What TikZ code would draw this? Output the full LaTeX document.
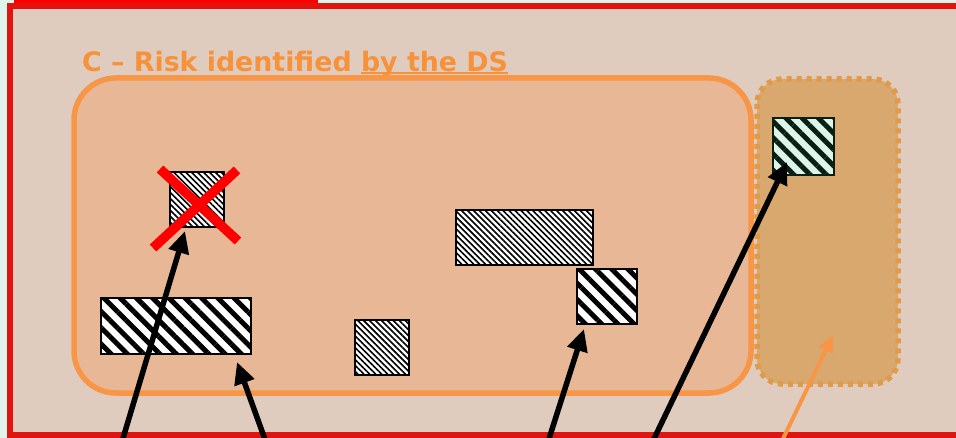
\documentclass[tikz,border=0pt]{standalone}
\usepackage{fontspec}
\setmainfont{DejaVu Sans}
\usetikzlibrary{patterns.meta,arrows.meta}
\definecolor{mint}{HTML}{E0F5EA}
\definecolor{beige}{HTML}{DFCCBF}
\definecolor{framered}{HTML}{E3140F}
\definecolor{zonefill}{HTML}{E8B896}
\definecolor{zoneline}{HTML}{F79646}
\definecolor{dotfill}{HTML}{D9A86E}
\definecolor{dotline}{HTML}{E09A48}
\definecolor{titleor}{HTML}{F7923A}
\definecolor{boxmint}{HTML}{DDF5E8}
\definecolor{darkgreen}{HTML}{0A1F14}
\newcommand\myul[1]{\setbox0\hbox{#1}\rlap{\rule[-2.5pt]{\wd0}{2.8pt}}\box0}
\tikzset{
  finebox/.style={draw=black, line width=2pt, inner sep=0pt, preaction={fill=white},
    pattern={Lines[angle=-45,distance=4.2pt,line width=1.6pt]}, pattern color=black},
  coarsebox/.style={draw=black, line width=2pt, inner sep=0pt, preaction={fill=white},
    pattern={Lines[angle=-45,distance=11.5pt,line width=5pt]}, pattern color=black},
  mintbox/.style={draw=darkgreen, line width=2pt, inner sep=0pt, preaction={fill=boxmint},
    pattern={Lines[angle=-45,distance=11.5pt,line width=5pt]}, pattern color=darkgreen},
  blackarrow/.style={line width=5.5pt, black, -{Triangle[length=22pt,width=20pt]}},
  orarrow/.style={line width=4pt, zoneline, -{Triangle[length=17pt,width=15pt]}},
  crossline/.style={line width=9.5pt, red},
}
\begin{document}
\begin{tikzpicture}[x=1pt,y=-1pt]
\useasboundingbox (0,0) rectangle (956,438);
\clip (0,0) rectangle (956,438);
\fill[mint] (0,0) rectangle (956,438);
% frame
\draw[framered, line width=6.5pt, fill=beige] (10,6) rectangle (1000,435.5);
\fill[red] (14,0) rectangle (318,3);
% title
\node[anchor=base west, inner sep=0pt, text=titleor, font=\bfseries\fontsize{26.8}{30}\selectfont] (title) at (82,72) {C – Risk identified \myul{by the DS}};
% zones
\draw[zoneline, line width=5.5pt, fill=zonefill, rounded corners=42pt] (74,78) rectangle (751,393) node[pos=0, inner sep=0pt] (zoneC) {};
\draw[dotline, line width=5.5pt, dash pattern=on 5pt off 5pt, fill=dotfill, rounded corners=25pt] (757,79) rectangle (898,384) node[pos=0, inner sep=0pt] (zoneX) {};
% boxes
\node[finebox, minimum width=54pt, minimum height=55pt] (b1) at (197,199.5) {};
\node[coarsebox, minimum width=150pt, minimum height=56pt] (b2) at (176,326) {};
\node[finebox, minimum width=54pt, minimum height=55pt] (b3) at (382,347.5) {};
\node[finebox, minimum width=137pt, minimum height=55pt] (b4) at (524.5,237.5) {};
\node[coarsebox, minimum width=60pt, minimum height=55pt] (b5) at (607,296.5) {};
\node[mintbox, minimum width=61pt, minimum height=57pt] (b6) at (803.5,146.5) {};
% red cross
\coordinate (x1) at (160,169);
\coordinate (x2) at (238,241);
\coordinate (x3) at (237,170);
\coordinate (x4) at (153,248);
\draw[crossline] (x1) -- (x2);
\draw[crossline] (x3) -- (x4);
% arrows
\coordinate (s1) at (121,445);
\coordinate (t1) at (185,231);
\coordinate (s2) at (267,445);
\coordinate (t2) at (237,362);
\coordinate (s3) at (547,445);
\coordinate (t3) at (584,329);
\coordinate (s4) at (651,445);
\coordinate (t4) at (787,162);
\coordinate (s5) at (780,445);
\coordinate (t5) at (833,335);
\draw[blackarrow] (s1) -- (t1);
\draw[blackarrow] (s2) -- (t2);
\draw[blackarrow] (s3) -- (t3);
\draw[blackarrow] (s4) -- (t4);
\draw[orarrow] (s5) -- (t5);
\end{tikzpicture}
\end{document}
